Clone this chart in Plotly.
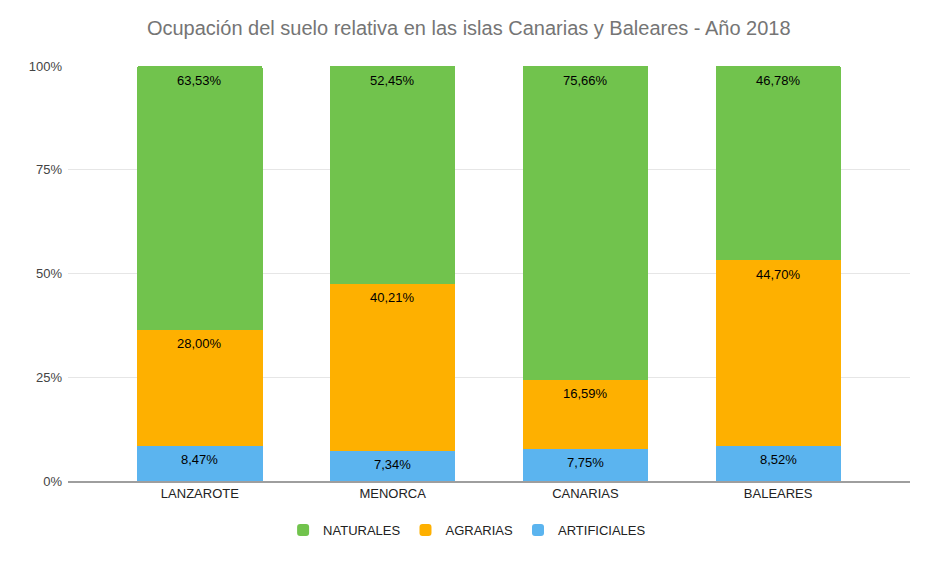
import plotly.graph_objs as go

islands = ["LANZAROTE", "MENORCA", "CANARIAS", "BALEARES"]
artificiales = [8.47, 7.34, 7.75, 8.52]
agrarias = [28.00, 40.21, 16.59, 44.70]
naturales = [63.53, 52.45, 75.66, 46.78]

y_ticks = [0, 25, 50, 75, 100]
y_tick_labels = ["0%", "25%", "50%", "75%", "100%"]


def pct_label(v):
    """Spanish style label: comma as decimal separator."""
    return f"{v:.2f}%".replace(".", ",")


fig = go.Figure()

series = [
    ("ARTIFICIALES", artificiales, "#5bb4ef"),
    ("AGRARIAS", agrarias, "#feb000"),
    ("NATURALES", naturales, "#71c34d"),
]

base = [0.0] * len(islands)
for name, values, color in series:
    fig.add_trace(
        go.Bar(
            x=islands,
            y=values,
            name=name,
            marker=dict(color=color, line=dict(width=0), cornerradius=2),
            width=0.65,
        )
    )
    # value labels placed just under the top of each segment
    for i, v in enumerate(values):
        base[i] += v
        fig.add_annotation(
            x=islands[i],
            y=base[i],
            text=pct_label(v),
            showarrow=False,
            yanchor="middle",
            yshift=-14,
            font=dict(size=13, color="#000000"),
        )

fig.update_layout(
    width=952,
    height=567,
    barmode="stack",
    paper_bgcolor="white",
    plot_bgcolor="white",
    font=dict(family="Liberation Sans, Arial, sans-serif", color="#444444", size=13),
    title=dict(
        text="Ocupación del suelo relativa en las islas Canarias y Baleares - Año 2018",
        x=0.484,
        xanchor="center",
        y=0.965,
        yanchor="middle",
        font=dict(size=20, color="#757575"),
    ),
    margin=dict(l=60, r=50, t=58, b=94),
    legend=dict(
        orientation="h",
        x=0.474,
        xanchor="center",
        y=-0.118,
        yanchor="middle",
        traceorder="reversed",
        font=dict(size=13, color="#222222"),
    ),
    xaxis=dict(
        range=[-0.684, 3.684],
        showgrid=False,
        showline=True,
        linecolor="#9e9e9e",
        linewidth=1.5,
        ticks="",
        tickfont=dict(size=13, color="#222222"),
    ),
    yaxis=dict(
        range=[0, 100],
        tickvals=y_ticks,
        ticktext=y_tick_labels,
        gridcolor="#e6e6e6",
        zeroline=False,
        showline=False,
        ticks="",
        ticklabelstandoff=5,
        tickfont=dict(size=13, color="#444444"),
    ),
)

fig.write_html("out.html")
